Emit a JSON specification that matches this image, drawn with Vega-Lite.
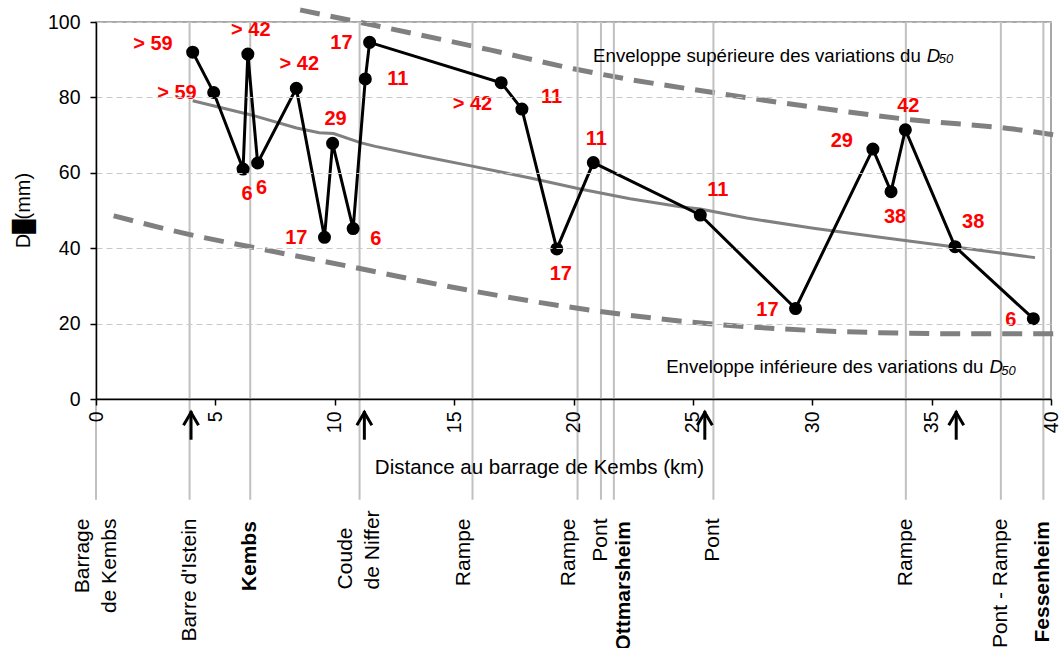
{
  "$schema": "https://vega.github.io/schema/vega-lite/v6.json",
  "autosize": {"type": "none"},
  "padding": {"left": 96, "top": 22, "right": 10, "bottom": 249},
  "width": 955,
  "height": 377,
  "background": "white",
  "config": {
    "font": "Liberation Sans",
    "view": {"stroke": "#8c8c8c", "strokeWidth": 1.5},
    "axis": {
      "domainColor": "#000000", "domainWidth": 1.5,
      "tickColor": "#000000", "tickWidth": 1.5, "tickSize": 6,
      "labelColor": "#000000", "labelFont": "Liberation Sans", "labelFontSize": 19.5,
      "titleFont": "Liberation Sans", "titleFontWeight": "normal", "titleColor": "#000000"
    }
  },
  "datasets": {
    "pts": [
      {"km": 4.05, "d50": 92.0, "lab": "> 59", "pos": "LU"},
      {"km": 4.93, "d50": 81.3, "lab": "> 59", "pos": "L"},
      {"km": 6.16, "d50": 61.0, "lab": "6", "pos": "B"},
      {"km": 6.36, "d50": 91.5, "lab": "> 42", "pos": "A"},
      {"km": 6.77, "d50": 62.6, "lab": "6", "pos": "B"},
      {"km": 8.39, "d50": 82.4, "lab": "> 42", "pos": "A"},
      {"km": 9.57, "d50": 42.9, "lab": "17", "pos": "L"},
      {"km": 9.91, "d50": 67.8, "lab": "29", "pos": "A"},
      {"km": 10.77, "d50": 45.2, "lab": "6", "pos": "RD"},
      {"km": 11.28, "d50": 84.9, "lab": "11", "pos": "R"},
      {"km": 11.46, "d50": 94.6, "lab": "17", "pos": "L"},
      {"km": 16.97, "d50": 83.9, "lab": "> 42", "pos": "BL"},
      {"km": 17.84, "d50": 76.9, "lab": "11", "pos": "RU"},
      {"km": 19.30, "d50": 39.8, "lab": "17", "pos": "B"},
      {"km": 20.83, "d50": 62.7, "lab": "11", "pos": "A"},
      {"km": 25.31, "d50": 48.8, "lab": "11", "pos": "AR"},
      {"km": 29.30, "d50": 24.0, "lab": "17", "pos": "L"},
      {"km": 32.54, "d50": 66.3, "lab": "29", "pos": "LU"},
      {"km": 33.30, "d50": 55.0, "lab": "38", "pos": "B"},
      {"km": 33.90, "d50": 71.4, "lab": "42", "pos": "A"},
      {"km": 35.98, "d50": 40.4, "lab": "38", "pos": "AR"},
      {"km": 39.26, "d50": 21.3, "lab": "6", "pos": "L"}
    ],
    "trend": [
      {"km": 4.05, "d50": 79.1}, {"km": 6.46, "d50": 75.4}, {"km": 8.4, "d50": 71.9},
      {"km": 9.35, "d50": 70.6}, {"km": 9.95, "d50": 70.4}, {"km": 11.07, "d50": 68.0},
      {"km": 11.7, "d50": 67.0}, {"km": 13.72, "d50": 64.3}, {"km": 15.81, "d50": 61.7},
      {"km": 18.19, "d50": 58.6}, {"km": 20.28, "d50": 55.7}, {"km": 22.37, "d50": 53.1},
      {"km": 24.47, "d50": 51.0}, {"km": 25.31, "d50": 50.4}, {"km": 27.26, "d50": 48.0},
      {"km": 30.05, "d50": 45.3}, {"km": 32.84, "d50": 42.9}, {"km": 35.98, "d50": 40.3},
      {"km": 39.33, "d50": 37.5}
    ],
    "envsup": [
      {"km": 8.55, "d50": 103.2}, {"km": 11.6, "d50": 99.2}, {"km": 16.5, "d50": 92.6},
      {"km": 20.0, "d50": 87.6}, {"km": 22.5, "d50": 84.6}, {"km": 24.5, "d50": 82.6},
      {"km": 30.05, "d50": 77.4}, {"km": 34.24, "d50": 74.0}, {"km": 38.43, "d50": 71.6},
      {"km": 40.17, "d50": 70.0}
    ],
    "envinf": [
      {"km": 0.74, "d50": 48.6}, {"km": 3.8, "d50": 43.8}, {"km": 6.5, "d50": 40.3},
      {"km": 10.5, "d50": 35.3}, {"km": 15.4, "d50": 29.1}, {"km": 19.6, "d50": 24.6},
      {"km": 24.6, "d50": 20.6}, {"km": 28.7, "d50": 18.6}, {"km": 32.8, "d50": 17.6},
      {"km": 36.5, "d50": 17.3}, {"km": 40.4, "d50": 17.3}
    ],
    "sites": [
      {"km": 0, "nom": "Barrage\nde Kembs", "gras": 0},
      {"km": 3.92, "nom": "Barre d'Istein", "gras": 0},
      {"km": 6.46, "nom": "Kembs", "gras": 1},
      {"km": 11.04, "nom": "Coude\nde Niffer", "gras": 0},
      {"km": 15.77, "nom": "Rampe", "gras": 0},
      {"km": 20.17, "nom": "Rampe", "gras": 0},
      {"km": 21.15, "nom": "Pont", "gras": 0},
      {"km": 21.69, "nom": "Ottmarsheim", "gras": 1},
      {"km": 25.86, "nom": "Pont", "gras": 0},
      {"km": 33.92, "nom": "Rampe", "gras": 0},
      {"km": 37.9, "nom": "Pont - Rampe", "gras": 0},
      {"km": 39.68, "nom": "Fessenheim", "gras": 1}
    ],
    "fleches": [
      {"km": 3.98}, {"km": 11.24}, {"km": 25.5}, {"km": 36.03}
    ],
    "envtxt": [
      {"km": 20.82, "d50": 89.5, "txt": "Enveloppe supérieure des variations du", "sty": "n"},
      {"km": 34.80, "d50": 89.5, "txt": "D", "sty": "i"},
      {"km": 35.30, "d50": 89.0, "txt": "50", "sty": "s"},
      {"km": 23.88, "d50": 6.9, "txt": "Enveloppe inférieure des variations du", "sty": "n"},
      {"km": 37.42, "d50": 6.9, "txt": "D", "sty": "i"},
      {"km": 37.92, "d50": 6.4, "txt": "50", "sty": "s"}
    ]
  },
  "encoding": {
    "x": {
      "field": "km", "type": "quantitative",
      "scale": {"domain": [0, 40], "nice": false, "zero": true},
      "axis": {
        "values": [0, 5, 10, 15, 20, 25, 30, 35, 40], "grid": false,
        "labelAngle": 270, "labelPadding": 6,
        "title": "Distance au barrage de Kembs (km)", "titleFontSize": 20.5,
        "titleX": 443, "titleY": 74, "titleBaseline": "alphabetic", "titleAlign": "center",
        "zindex": 1
      }
    }
  },
  "layer": [
    {
      "data": {"name": "envsup"},
      "mark": {"type": "line", "color": "#808080", "strokeWidth": 5, "strokeDash": [20, 11], "interpolate": "monotone"},
      "encoding": {
        "y": {
          "field": "d50", "type": "quantitative",
          "scale": {"domain": [0, 100], "nice": false},
          "axis": {
            "values": [0, 20, 40, 60, 80, 100], "grid": true,
            "gridColor": "#c8c8c8", "gridDash": [6, 4], "gridWidth": 1,
            "labelPadding": 10,
            "title": "D█(mm)", "titleFontSize": 20,
            "titleX": -73, "titleY": 188, "titleBaseline": "middle", "titleAlign": "center", "titleAngle": 270,
            "zindex": 1
          }
        }
      }
    },
    {
      "data": {"name": "sites"},
      "mark": {"type": "rule", "color": "#c0c0c0", "strokeWidth": 2},
      "encoding": {"y": {"datum": 100, "scale": {"domain": [0, 100], "nice": false}}, "y2": {"datum": -26.7}}
    },
    {
      "data": {"name": "envinf"},
      "mark": {"type": "line", "color": "#808080", "strokeWidth": 5, "strokeDash": [20, 11], "interpolate": "monotone"},
      "encoding": {"y": {"field": "d50", "type": "quantitative", "scale": {"domain": [0, 100], "nice": false}}}
    },
    {
      "data": {"name": "trend"},
      "mark": {"type": "line", "color": "#808080", "strokeWidth": 3},
      "encoding": {"y": {"field": "d50", "type": "quantitative", "scale": {"domain": [0, 100], "nice": false}}}
    },
    {
      "data": {"name": "pts"},
      "mark": {"type": "line", "color": "#000000", "strokeWidth": 3},
      "encoding": {"y": {"field": "d50", "type": "quantitative", "scale": {"domain": [0, 100], "nice": false}}}
    },
    {
      "data": {"name": "pts"},
      "mark": {"type": "circle", "color": "#000000", "size": 170, "opacity": 1},
      "encoding": {"y": {"field": "d50", "type": "quantitative", "scale": {"domain": [0, 100], "nice": false}}}
    },
    {
      "data": {"name": "pts"}, "transform": [{"filter": "datum.pos == 'L'"}],
      "mark": {"type": "text", "align": "right", "baseline": "middle", "dx": -17, "dy": 1, "color": "#ff0000", "fontWeight": "bold", "fontSize": 20},
      "encoding": {"y": {"field": "d50", "type": "quantitative", "scale": {"domain": [0, 100], "nice": false}}, "text": {"field": "lab"}}
    },
    {
      "data": {"name": "pts"}, "transform": [{"filter": "datum.pos == 'LU'"}],
      "mark": {"type": "text", "align": "right", "baseline": "middle", "dx": -20, "dy": -8, "color": "#ff0000", "fontWeight": "bold", "fontSize": 20},
      "encoding": {"y": {"field": "d50", "type": "quantitative", "scale": {"domain": [0, 100], "nice": false}}, "text": {"field": "lab"}}
    },
    {
      "data": {"name": "pts"}, "transform": [{"filter": "datum.pos == 'R'"}],
      "mark": {"type": "text", "align": "left", "baseline": "middle", "dx": 22, "dy": 0, "color": "#ff0000", "fontWeight": "bold", "fontSize": 20},
      "encoding": {"y": {"field": "d50", "type": "quantitative", "scale": {"domain": [0, 100], "nice": false}}, "text": {"field": "lab"}}
    },
    {
      "data": {"name": "pts"}, "transform": [{"filter": "datum.pos == 'RD'"}],
      "mark": {"type": "text", "align": "left", "baseline": "middle", "dx": 17, "dy": 10, "color": "#ff0000", "fontWeight": "bold", "fontSize": 20},
      "encoding": {"y": {"field": "d50", "type": "quantitative", "scale": {"domain": [0, 100], "nice": false}}, "text": {"field": "lab"}}
    },
    {
      "data": {"name": "pts"}, "transform": [{"filter": "datum.pos == 'RU'"}],
      "mark": {"type": "text", "align": "left", "baseline": "middle", "dx": 19, "dy": -12, "color": "#ff0000", "fontWeight": "bold", "fontSize": 20},
      "encoding": {"y": {"field": "d50", "type": "quantitative", "scale": {"domain": [0, 100], "nice": false}}, "text": {"field": "lab"}}
    },
    {
      "data": {"name": "pts"}, "transform": [{"filter": "datum.pos == 'A'"}],
      "mark": {"type": "text", "align": "center", "baseline": "middle", "dx": 3, "dy": -24, "color": "#ff0000", "fontWeight": "bold", "fontSize": 20},
      "encoding": {"y": {"field": "d50", "type": "quantitative", "scale": {"domain": [0, 100], "nice": false}}, "text": {"field": "lab"}}
    },
    {
      "data": {"name": "pts"}, "transform": [{"filter": "datum.pos == 'B'"}],
      "mark": {"type": "text", "align": "center", "baseline": "middle", "dx": 4, "dy": 25, "color": "#ff0000", "fontWeight": "bold", "fontSize": 20},
      "encoding": {"y": {"field": "d50", "type": "quantitative", "scale": {"domain": [0, 100], "nice": false}}, "text": {"field": "lab"}}
    },
    {
      "data": {"name": "pts"}, "transform": [{"filter": "datum.pos == 'AR'"}],
      "mark": {"type": "text", "align": "left", "baseline": "middle", "dx": 7, "dy": -25, "color": "#ff0000", "fontWeight": "bold", "fontSize": 20},
      "encoding": {"y": {"field": "d50", "type": "quantitative", "scale": {"domain": [0, 100], "nice": false}}, "text": {"field": "lab"}}
    },
    {
      "data": {"name": "pts"}, "transform": [{"filter": "datum.pos == 'BL'"}],
      "mark": {"type": "text", "align": "right", "baseline": "middle", "dx": -9, "dy": 21, "color": "#ff0000", "fontWeight": "bold", "fontSize": 20},
      "encoding": {"y": {"field": "d50", "type": "quantitative", "scale": {"domain": [0, 100], "nice": false}}, "text": {"field": "lab"}}
    },
    {
      "data": {"name": "envtxt"}, "transform": [{"filter": "datum.sty == 'n'"}],
      "mark": {"type": "text", "align": "left", "baseline": "alphabetic", "color": "#000000", "fontSize": 18.67},
      "encoding": {"y": {"field": "d50", "type": "quantitative", "scale": {"domain": [0, 100], "nice": false}}, "text": {"field": "txt"}}
    },
    {
      "data": {"name": "envtxt"}, "transform": [{"filter": "datum.sty == 'i'"}],
      "mark": {"type": "text", "align": "left", "baseline": "alphabetic", "color": "#000000", "fontSize": 18.67, "fontStyle": "italic"},
      "encoding": {"y": {"field": "d50", "type": "quantitative", "scale": {"domain": [0, 100], "nice": false}}, "text": {"field": "txt"}}
    },
    {
      "data": {"name": "envtxt"}, "transform": [{"filter": "datum.sty == 's'"}],
      "mark": {"type": "text", "align": "left", "baseline": "alphabetic", "color": "#000000", "fontSize": 13, "fontStyle": "italic"},
      "encoding": {"y": {"field": "d50", "type": "quantitative", "scale": {"domain": [0, 100], "nice": false}}, "text": {"field": "txt"}}
    },
    {
      "data": {"name": "sites"},
      "transform": [{"filter": "datum.gras == 0 && datum.km > 0.1 && !(datum.km > 11 && datum.km < 11.1) && !(datum.nom == 'Rampe' && datum.km < 21)"}],
      "mark": {"type": "text", "angle": 270, "align": "right", "baseline": "middle", "fontSize": 21, "color": "#000000"},
      "encoding": {"y": {"datum": -31.7, "scale": {"domain": [0, 100], "nice": false}}, "text": {"field": "nom"}}
    },
    {
      "data": {"name": "sites"},
      "transform": [{"filter": "datum.km < 0.1"}],
      "mark": {"type": "text", "angle": 270, "align": "right", "baseline": "middle", "lineBreak": "\n", "lineHeight": 27, "dy": -13.5, "fontSize": 21, "color": "#000000"},
      "encoding": {"y": {"datum": -31.7, "scale": {"domain": [0, 100], "nice": false}}, "text": {"field": "nom"}}
    },
    {
      "data": {"name": "sites"},
      "transform": [{"filter": "datum.nom == 'Rampe' && datum.km < 21"}],
      "mark": {"type": "text", "angle": 270, "align": "right", "baseline": "middle", "dy": -9, "fontSize": 21, "color": "#000000"},
      "encoding": {"y": {"datum": -31.7, "scale": {"domain": [0, 100], "nice": false}}, "text": {"field": "nom"}}
    },
    {
      "data": {"name": "sites"},
      "transform": [{"filter": "datum.km > 11 && datum.km < 11.1"}],
      "mark": {"type": "text", "angle": 270, "align": "left", "baseline": "middle", "lineBreak": "\n", "lineHeight": 27, "dy": -14, "fontSize": 21, "color": "#000000"},
      "encoding": {"y": {"datum": -50.5, "scale": {"domain": [0, 100], "nice": false}}, "text": {"field": "nom"}}
    },
    {
      "data": {"name": "sites"},
      "transform": [{"filter": "datum.gras == 1 && datum.nom != 'Ottmarsheim'"}],
      "mark": {"type": "text", "angle": 270, "align": "right", "baseline": "middle", "fontSize": 21, "fontWeight": "bold", "color": "#000000"},
      "encoding": {"y": {"datum": -32.4, "scale": {"domain": [0, 100], "nice": false}}, "text": {"field": "nom"}}
    },
    {
      "data": {"name": "sites"},
      "transform": [{"filter": "datum.nom == 'Ottmarsheim'"}],
      "mark": {"type": "text", "angle": 270, "align": "right", "baseline": "middle", "dy": 10, "fontSize": 21, "fontWeight": "bold", "color": "#000000"},
      "encoding": {"y": {"datum": -32.4, "scale": {"domain": [0, 100], "nice": false}}, "text": {"field": "nom"}}
    },
    {
      "data": {"name": "fleches"},
      "mark": {"type": "rule", "color": "#000000", "strokeWidth": 3},
      "encoding": {"y": {"datum": -3.2, "scale": {"domain": [0, 100], "nice": false}}, "y2": {"datum": -10.8}}
    },
    {
      "data": {"name": "fleches"},
      "mark": {"type": "point", "shape": "M-1,1.7L0,0L1,1.7", "size": 225, "filled": false, "stroke": "#000000", "strokeWidth": 3, "opacity": 1, "strokeJoin": "miter"},
      "encoding": {"y": {"datum": -3.6, "scale": {"domain": [0, 100], "nice": false}}}
    }
  ]
}
